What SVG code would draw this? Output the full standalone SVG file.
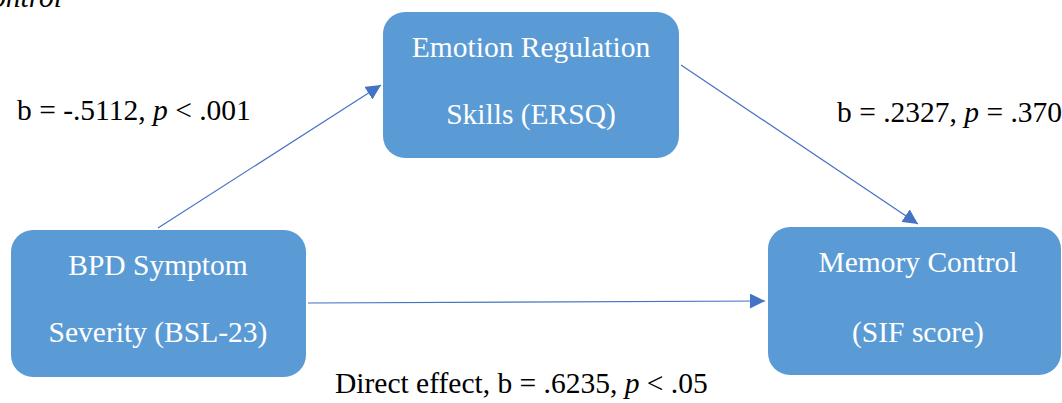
<svg xmlns="http://www.w3.org/2000/svg" width="1062" height="403" viewBox="0 0 1062 403">
<style>
.box{fill:#5B9BD5;}
.nt{fill:#ffffff;font-family:"Liberation Serif","Times New Roman",serif;font-size:29.5px;text-anchor:middle;}
.lb{fill:#000000;font-family:"Liberation Serif","Times New Roman",serif;font-size:29.5px;}
.edge{stroke:#4472C4;stroke-width:1.2;fill:none;marker-end:url(#ah);}
</style>
<defs>
<marker id="ah" viewBox="0 0 10 10" refX="10" refY="5" markerWidth="15" markerHeight="15" markerUnits="userSpaceOnUse" orient="auto">
<path d="M0,0 L10,5 L0,10 z" fill="#4472C4"/>
</marker>
</defs>
<text class="lb" x="-9" y="7" font-style="italic">ontrol</text>
<g id="connectors">
<line class="edge" x1="158" y1="228" x2="381" y2="85"/>
<line class="edge" x1="681" y1="65" x2="918" y2="224"/>
<line class="edge" x1="308" y1="303" x2="765" y2="301"/>
</g>
<g id="node-erq">
<rect class="box" x="383" y="12" width="296" height="146" rx="22"/>
<text class="nt" x="531" y="57">Emotion Regulation</text>
<text class="nt" x="531" y="124">Skills (ERSQ)</text>
</g>
<g id="node-bpd">
<rect class="box" x="11" y="230" width="295" height="147" rx="22"/>
<text class="nt" x="158" y="275">BPD Symptom</text>
<text class="nt" x="158" y="342">Severity (BSL-23)</text>
</g>
<g id="node-mem">
<rect class="box" x="768" y="227" width="293" height="148" rx="22"/>
<text class="nt" x="918" y="272">Memory Control</text>
<text class="nt" x="918" y="342">(SIF score)</text>
</g>
<g id="labels">
<text class="lb" x="17" y="120">b = -.5112, <tspan font-style="italic">p</tspan> &lt; .001</text>
<text class="lb" x="837" y="122">b = .2327, <tspan font-style="italic">p</tspan> = .370</text>
<text class="lb" x="335" y="393">Direct effect, b = .6235, <tspan font-style="italic">p</tspan> &lt; .05</text>
</g>
</svg>
